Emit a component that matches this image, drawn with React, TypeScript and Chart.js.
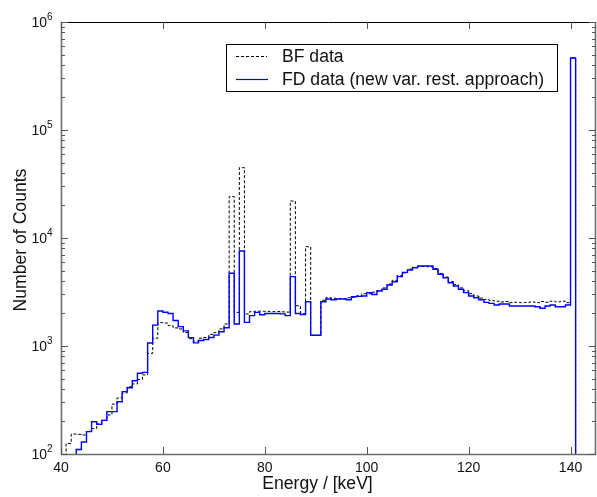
import { useEffect, useRef } from 'react';
import { Chart, registerables } from 'chart.js';

Chart.register(...registerables);

// Left edge of each 1 keV bin (stairs style)
const ENERGY_KEV = [
  40, 41, 42, 43, 44, 45, 46, 47, 48, 49,
  50, 51, 52, 53, 54, 55, 56, 57, 58, 59,
  60, 61, 62, 63, 64, 65, 66, 67, 68, 69,
  70, 71, 72, 73, 74, 75, 76, 77, 78, 79,
  80, 81, 82, 83, 84, 85, 86, 87, 88, 89,
  90, 91, 92, 93, 94, 95, 96, 97, 98, 99,
  100, 101, 102, 103, 104, 105, 106, 107, 108, 109,
  110, 111, 112, 113, 114, 115, 116, 117, 118, 119,
  120, 121, 122, 123, 124, 125, 126, 127, 128, 129,
  130, 131, 132, 133, 134, 135, 136, 137, 138, 139,
  140, 141,
];

const BF_COUNTS = [
  50, 125, 153, 152, 150, 162, 172, 190, 205, 230,
  290, 330, 368, 420, 445, 490, 540, 855, 1180, 1645,
  1630, 1545, 1470, 1440, 1330, 1170, 1110, 1180, 1200, 1280,
  1330, 1440, 1600, 24150, 2050, 44800, 1980, 2080, 2100, 2100,
  2090, 2080, 2090, 2070, 2060, 22000, 2360, 1990, 8300, 1256,
  1256, 2650, 2800, 2760, 2750, 2740, 2800, 2830, 2920, 3050,
  3050, 3150, 3250, 3450, 3750, 4050, 4500, 4750, 5150, 5350,
  5450, 5450, 5400, 5200, 4700, 4350, 3950, 3700, 3450, 3250,
  3050, 2900, 2780, 2700, 2640, 2600, 2560, 2580, 2520, 2540,
  2520, 2530, 2560, 2520, 2580, 2540, 2600, 2560, 2600, 2520,
  464000, 1,
];

const FD_COUNTS = [
  50, 50, 50, 110, 129, 161, 199, 188, 205, 247,
  247, 305, 378, 410, 476, 560, 570, 1065, 1560, 2110,
  2055, 2000, 1720, 1510, 1380, 1195, 1070, 1125, 1150, 1200,
  1260, 1355, 1475, 4710, 1600, 7590, 1655, 1910, 2050, 1950,
  2000, 2000, 2000, 1985, 1910, 4390, 2000, 1960, 2570, 1256,
  1256, 2570, 2720, 2680, 2720, 2720, 2680, 2860, 2880, 2900,
  3120, 3000, 3230, 3350, 3670, 3940, 4390, 4810, 5055, 5310,
  5500, 5500, 5500, 5130, 4610, 4290, 3850, 3590, 3350, 3120,
  2900, 2800, 2680, 2535, 2483, 2397, 2449, 2449, 2344, 2344,
  2344, 2344, 2344, 2312, 2233, 2344, 2397, 2312, 2312, 2397,
  464000, 1,
];

const X_TICKS = [40, 60, 80, 100, 120, 140];
const Y_TICKS = [1e2, 1e3, 1e4, 1e5, 1e6];
const Y_TICK_BASE = '10';
const Y_TICK_EXPONENTS = ['2', '3', '4', '5', '6'];
const MINOR_MULTIPLIERS = [2, 3, 4, 5, 6, 7, 8, 9];
const SERIES_LABELS = ['BF data', 'FD data (new var. rest. approach)'];
const X_TITLE = 'Energy / [keV]';
const Y_TITLE = 'Number of Counts';

const FONT = '"Liberation Sans", Arial, sans-serif';
const BLUE = '#0000ff';

const framePlugin = {
  id: 'matlabFrame',
  afterDraw(chart: any) {
    const { ctx, chartArea: a, scales } = chart;
    const xs = scales.x;
    const ys = scales.y;
    ctx.save();
    // box
    ctx.lineWidth = 1;
    ctx.strokeStyle = '#000';
    ctx.beginPath();
    ctx.moveTo(a.left + 0.5, a.top + 0.5);
    ctx.lineTo(a.right - 0.5, a.top + 0.5);
    ctx.stroke();
    ctx.lineWidth = 1.6;
    ctx.strokeStyle = '#6e6e6e';
    ctx.beginPath();
    ctx.moveTo(a.left + 0.5, a.top);
    ctx.lineTo(a.left + 0.5, a.bottom + 0.5);
    ctx.lineTo(a.right - 0.5, a.bottom + 0.5);
    ctx.lineTo(a.right - 0.5, a.top);
    ctx.stroke();

    // inward ticks
    ctx.lineWidth = 1;
    ctx.strokeStyle = '#555';
    ctx.beginPath();
    for (const v of X_TICKS) {
      const px = Math.round(xs.getPixelForValue(v)) + 0.5;
      ctx.moveTo(px, a.bottom);
      ctx.lineTo(px, a.bottom - 7);
      ctx.moveTo(px, a.top);
      ctx.lineTo(px, a.top + 7);
    }
    for (let i = 0; i < Y_TICKS.length; i++) {
      const d = Y_TICKS[i];
      const py = Math.round(ys.getPixelForValue(d)) + 0.5;
      ctx.moveTo(a.left, py);
      ctx.lineTo(a.left + 7, py);
      ctx.moveTo(a.right, py);
      ctx.lineTo(a.right - 7, py);
      if (i < Y_TICKS.length - 1) {
        for (const m of MINOR_MULTIPLIERS) {
          const pm = Math.round(ys.getPixelForValue(d * m)) + 0.5;
          ctx.moveTo(a.left, pm);
          ctx.lineTo(a.left + 4, pm);
          ctx.moveTo(a.right, pm);
          ctx.lineTo(a.right - 4, pm);
        }
      }
    }
    ctx.stroke();

    // y tick labels: 10 with raised exponent
    ctx.fillStyle = '#111';
    ctx.textBaseline = 'middle';
    for (let i = 0; i < Y_TICKS.length; i++) {
      const py = ys.getPixelForValue(Y_TICKS[i]);
      ctx.font = `14px ${FONT}`;
      ctx.textAlign = 'right';
      ctx.fillText(Y_TICK_BASE, 47, py + 1);
      ctx.font = `10px ${FONT}`;
      ctx.textAlign = 'left';
      ctx.fillText(Y_TICK_EXPONENTS[i], 47, py - 5);
    }

    // axis titles
    ctx.fillStyle = '#111';
    ctx.font = `17.6px ${FONT}`;
    ctx.textAlign = 'center';
    ctx.textBaseline = 'middle';
    ctx.fillText(X_TITLE, 317.5, 484);
    ctx.save();
    ctx.translate(21, 240);
    ctx.rotate(-Math.PI / 2);
    ctx.fillText(Y_TITLE, 0, 0);
    ctx.restore();

    // legend
    const lx = 226, ly = 44, lw = 331, lh = 47;
    ctx.fillStyle = '#fff';
    ctx.fillRect(lx, ly, lw, lh);
    ctx.strokeStyle = '#000';
    ctx.lineWidth = 1;
    ctx.strokeRect(lx + 0.5, ly + 0.5, lw, lh);
    ctx.beginPath();
    ctx.setLineDash([3, 2]);
    ctx.strokeStyle = '#000';
    ctx.moveTo(236, 56.5);
    ctx.lineTo(267, 56.5);
    ctx.stroke();
    ctx.setLineDash([]);
    ctx.beginPath();
    ctx.strokeStyle = BLUE;
    ctx.lineWidth = 1.2;
    ctx.moveTo(236, 79.5);
    ctx.lineTo(268, 79.5);
    ctx.stroke();
    ctx.fillStyle = '#111';
    ctx.textAlign = 'left';
    ctx.font = `17.6px ${FONT}`;
    ctx.fillText(SERIES_LABELS[0], 282, 57);
    ctx.fillText(SERIES_LABELS[1], 282, 80);
    ctx.restore();
  },
};

export default function App() {
  const ref = useRef<HTMLCanvasElement | null>(null);

  useEffect(() => {
    if (!ref.current) return;
    const bf = ENERGY_KEV.map((e, i) => ({ x: e, y: BF_COUNTS[i] }));
    const fd = ENERGY_KEV.map((e, i) => ({ x: e, y: FD_COUNTS[i] }));
    const chart = new Chart(ref.current, {
      type: 'line',
      data: {
        datasets: [
          {
            label: SERIES_LABELS[0],
            data: bf,
            borderColor: '#000',
            borderWidth: 1,
            borderDash: [3, 2],
            stepped: 'before',
            pointRadius: 0,
            fill: false,
            order: 2,
          },
          {
            label: SERIES_LABELS[1],
            data: fd,
            borderColor: BLUE,
            borderWidth: 1.4,
            stepped: 'before',
            pointRadius: 0,
            fill: false,
            order: 1,
          },
        ],
      },
      options: {
        animation: false,
        responsive: false,
        events: [],
        layout: { padding: { left: 0, top: 22, right: 1, bottom: 0 } },
        plugins: {
          legend: { display: false },
          tooltip: { enabled: false },
        },
        scales: {
          x: {
            type: 'linear',
            min: 40,
            max: 145,
            grid: { display: false, drawTicks: false },
            border: { display: false },
            afterBuildTicks: (s: any) => {
              s.ticks = X_TICKS.map((v) => ({ value: v }));
            },
            afterFit: (s: any) => {
              s.height = 43;
            },
            ticks: {
              padding: 6,
              color: '#111',
              font: { family: FONT, size: 14 },
              maxRotation: 0,
              autoSkip: false,
              callback: (v: any) => String(v),
            },
          },
          y: {
            type: 'logarithmic',
            min: 100,
            max: 1e6,
            grid: { display: false, drawTicks: false },
            border: { display: false },
            afterBuildTicks: (s: any) => {
              s.ticks = Y_TICKS.map((v) => ({ value: v }));
            },
            afterFit: (s: any) => {
              s.width = 61;
            },
            ticks: {
              display: false,
            },
          },
        },
      },
      plugins: [framePlugin],
    } as any);
    return () => chart.destroy();
  }, []);

  return (
    <div style={{ position: 'fixed', left: 0, top: 0, width: 597, height: 497, background: '#fff' }}>
      <canvas ref={ref} width={597} height={497} style={{ width: 597, height: 497, display: 'block' }} />
    </div>
  );
}
